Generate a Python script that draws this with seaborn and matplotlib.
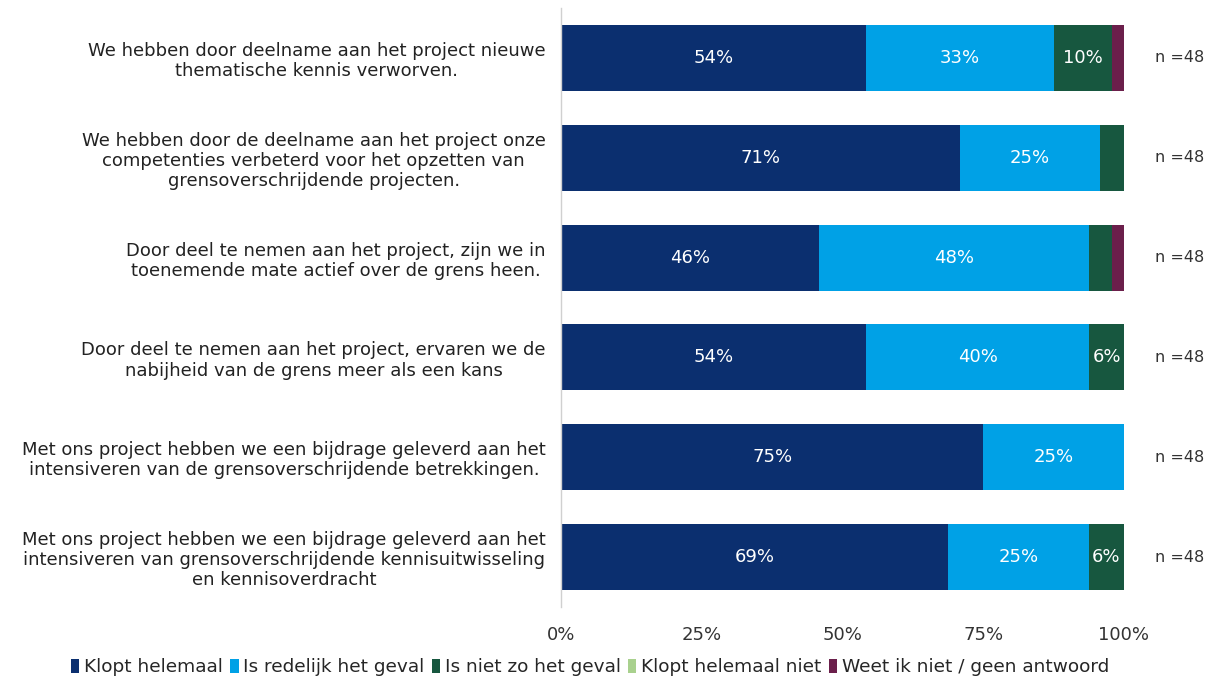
import matplotlib
matplotlib.use("Agg")
import matplotlib.pyplot as plt
import seaborn as sns
import numpy as np
import pandas as pd
from matplotlib.patches import Patch

statements = [
    "We hebben door deelname aan het project nieuwe\nthematische kennis verworven.",
    "We hebben door de deelname aan het project onze\ncompetenties verbeterd voor het opzetten van\ngrensoverschrijdende projecten.",
    "Door deel te nemen aan het project, zijn we in\ntoenemende mate actief over de grens heen.",
    "Door deel te nemen aan het project, ervaren we de\nnabijheid van de grens meer als een kans",
    "Met ons project hebben we een bijdrage geleverd aan het\nintensiveren van de grensoverschrijdende betrekkingen.",
    "Met ons project hebben we een bijdrage geleverd aan het\nintensiveren van grensoverschrijdende kennisuitwisseling\nen kennisoverdracht",
]
categories = ["Klopt helemaal", "Is redelijk het geval", "Is niet zo het geval",
              "Klopt helemaal niet", "Weet ik niet / geen antwoord"]
klopt_helemaal = [54.2, 70.8, 45.8, 54.2, 75.0, 68.75]
redelijk = [33.3, 25.0, 47.9, 39.6, 25.0, 25.0]
niet_zo = [10.4, 4.2, 4.2, 6.25, 0.0, 6.25]
helemaal_niet = [0.0, 0.0, 0.0, 0.0, 0.0, 0.0]
weet_niet = [2.1, 0.0, 2.1, 0.0, 0.0, 0.0]
n_labels = ["n =48"] * 6
colors = ["#0B2F6F", "#00A1E6", "#17573F", "#A9D18E", "#6B1F4B"]

series = [klopt_helemaal, redelijk, niet_zo, helemaal_niet, weet_niet]
vals = np.array(series)
cum = np.cumsum(vals, axis=0)

sns.set_theme(style="white")
plt.rcParams['font.family'] = ['DejaVu Sans']

fig = plt.figure(figsize=(12.22, 6.81), dpi=100)
ax = fig.add_axes([561/1222, 1-607/681, (1124-561)/1222, (607-8)/681])

for k in range(len(categories)-1, -1, -1):
    df = pd.DataFrame({"stmt": statements, "val": cum[k]})
    sns.barplot(data=df, x="val", y="stmt", orient="h", color=colors[k],
                width=0.66, ax=ax, saturation=1, linewidth=0, order=statements)

for i in range(len(statements)):
    for k in range(len(categories)):
        v = vals[k, i]
        if v >= 5:
            start = cum[k, i] - v
            ax.text(start + v/2, i, f"{v:.0f}%", ha="center", va="center",
                    color="white", fontsize=13)
    ax.text(105.5, i, n_labels[i], ha="left", va="center", fontsize=11.5, color="#333333",
            clip_on=False)

ax.set_xlim(0, 100)
ax.set_ylim(5.5, -0.5)
ax.set_xticks([0, 25, 50, 75, 100])
ax.set_xticklabels(["0%", "25%", "50%", "75%", "100%"], fontsize=13, color="#333333")
ax.tick_params(axis="x", length=0, pad=14)
ax.tick_params(axis="y", length=0, pad=11)
ax.set_yticks(range(len(statements)))
ax.set_yticklabels(statements, fontsize=13, color="#222222", ha="right",
                   multialignment="center", linespacing=1.15)
ax.set_xlabel("")
ax.set_ylabel("")
for s in ["top", "right", "bottom"]:
    ax.spines[s].set_visible(False)
ax.spines["left"].set_color("#D0D0D0")
ax.spines["left"].set_linewidth(1)

handles = [Patch(facecolor=c, edgecolor="none") for c in colors]
fig.legend(handles, categories, loc="center", bbox_to_anchor=(590/1222, 1-667/681),
           ncol=5, frameon=False, fontsize=13.3, handlelength=0.45, handleheight=0.8,
           handletextpad=0.25, columnspacing=0.4)

fig.savefig("out.png", dpi=100)
